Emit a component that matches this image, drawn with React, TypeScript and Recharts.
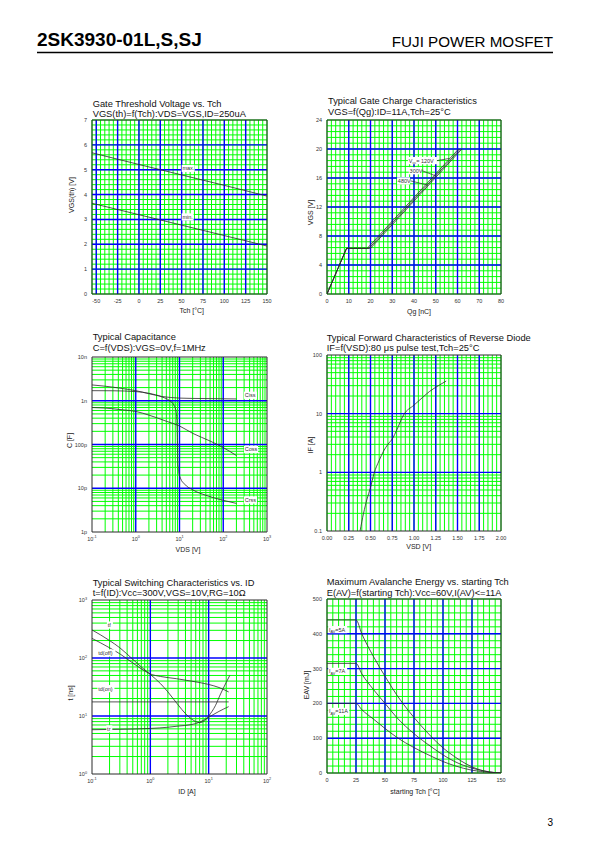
import React from 'react';
import { LineChart, Line, XAxis, YAxis, ReferenceLine, ReferenceDot } from 'recharts';

const FONT = 'Arial, "Liberation Sans", Helvetica, sans-serif';
const INK = '#2b2b2b';
const GREEN = '#00ff00';
const BLUE = '#0000ff';

type Pt = { x: number; y: number };
const pts = (rows: number[][]): Pt[] => rows.map(([x, y]) => ({ x, y }));

// --- Gate threshold voltage vs Tch
const tchTicks = [-50, -25, 0, 25, 50, 75, 100, 125, 150];
const vthTicks = [0, 1, 2, 3, 4, 5, 6, 7];
const vthMax = pts([[-55, 5.68], [0, 5.21], [50, 4.79], [100, 4.37], [150, 3.94]]);
const vthMin = pts([[-55, 3.65], [0, 3.19], [50, 2.77], [100, 2.35], [150, 1.93]]);

// --- Gate charge
const qgTicks = [0, 10, 20, 30, 40, 50, 60, 70, 80];
const vgsTicks = [0, 4, 8, 12, 16, 20, 24];
const qg120 = pts([[0, 0], [9, 6.3], [18.5, 6.3], [60.5, 20]]);
const qg300 = pts([[0, 0], [9, 6.3], [19.3, 6.3], [61.3, 20]]);
const qg480 = pts([[0, 0], [9, 6.3], [20, 6.3], [62, 20]]);

// --- Capacitance (pF)
const vdsTicks = [0.1, 1, 10, 100, 1000];
const capTicks = [1, 10, 100, 1000, 10000];
const capLabels = ['1p', '10p', '100p', '1n', '10n'];
const ciss = pts([[0.1, 2300], [0.2, 2150], [0.5, 1900], [1, 1700], [2, 1450], [4, 1250], [10, 1150], [20, 1130], [50, 1120], [100, 1110], [200, 1100]]);
const coss = pts([[0.1, 700], [0.2, 680], [0.5, 620], [1, 570], [2, 470], [5, 340], [10, 265], [20, 180], [50, 120], [100, 85], [200, 56]]);
const crss = pts([[0.1, 1700], [0.3, 1690], [1, 1620], [2, 1480], [4, 1220], [6, 1000], [7.5, 790], [8.4, 560], [8.8, 250], [9.0, 80], [9.2, 35], [9.6, 24], [10.5, 17], [13, 12.5], [20, 9.2], [40, 6.9], [100, 5.3], [200, 4.5]]);

// --- Reverse diode
const vsdTicks = [0, 0.25, 0.5, 0.75, 1, 1.25, 1.5, 1.75, 2];
const ifTicks = [0.1, 1, 10, 100];
const diodeIf = pts([[0.38, 0.1], [0.42, 0.2], [0.46, 0.35], [0.5, 0.55], [0.54, 0.95], [0.6, 1.6], [0.65, 2.3], [0.7, 3.0], [0.755, 3.8], [0.8, 5.2], [0.88, 9.5], [1.0, 14], [1.1, 19], [1.18, 24], [1.28, 30], [1.37, 36]]);

// --- Switching times (ns)
const idTicks = [0.1, 1, 10, 100];
const tTicks = [1, 10, 100, 1000];
const tf = pts([[0.1, 305], [0.2, 200], [0.3, 150], [0.5, 95], [0.7, 70], [1, 52], [1.5, 36], [2, 26], [3, 15.5], [4, 11], [5, 9], [6, 8], [7, 7.7], [8.5, 8.3], [10, 10], [13, 15], [16, 24], [20, 38], [23, 50]]);
const tdOff = pts([[0.1, 218], [0.2, 150], [0.3, 118], [0.5, 82], [0.7, 65], [1, 53], [1.5, 48], [2.8, 44], [5, 40], [10, 35], [15, 31], [22, 26]]);
const tdOn = pts([[0.1, 17.5], [22, 17.5]]);
const tr = pts([[0.1, 5.8], [0.3, 5.9], [1, 6.1], [2, 6.4], [3, 6.7], [5, 7.1], [7, 7.8], [10, 9.5], [15, 12], [22, 14.5]]);

// --- Avalanche energy (mJ)
const tstTicks = [0, 25, 50, 75, 100, 125, 150];
const eavTicks = [0, 100, 200, 300, 400, 500];
const eav5 = pts([[0, 440], [25, 440], [30, 400], [40, 335], [50, 278], [60, 225], [70, 180], [80, 140], [90, 104], [100, 72], [110, 47], [120, 26], [130, 11], [140, 3], [150, 0]]);
const eav7 = pts([[0, 315], [25, 315], [30, 285], [40, 240], [50, 200], [60, 160], [75, 113], [90, 75], [100, 52], [110, 33], [125, 14], [140, 3], [150, 0]]);
const eav11 = pts([[0, 200], [25, 200], [30, 182], [40, 155], [50, 128], [60, 103], [75, 73], [90, 48], [100, 33], [110, 21], [125, 8], [140, 2], [150, 0]]);

// grid helpers
const steps = (a: number, b: number, s: number) => {
  const out: number[] = [];
  for (let i = 0; a + i * s <= b + 1e-9; i++) out.push(+(a + i * s).toFixed(6));
  return out;
};
const logMinor = (e0: number, e1: number) => {
  const out: number[] = [];
  for (let e = e0; e < e1; e++) for (let m = 2; m <= 9; m++) out.push(+(m * Math.pow(10, e)).toPrecision(6));
  return out;
};

type Tag = { x: number; y: number; w: number; label: React.ReactNode };
type Seg = { from: [number, number]; to: [number, number] };

const tickStyle = { fontSize: 5.5, fill: '#333', fontFamily: FONT };

const xTickPlain = (fmt: (v: number) => string) => (p: any) => (
  <text x={p.x} y={p.y + 4.7} textAnchor="middle" {...tickStyle}>{fmt(p.payload.value)}</text>
);
const yTickPlain = (fmt: (v: number) => string) => (p: any) => (
  <text x={p.x} y={p.y + 2} textAnchor="end" {...tickStyle}>{fmt(p.payload.value)}</text>
);
const xTickPow = (p: any) => (
  <text x={p.x} y={p.y + 4.7} textAnchor="middle" {...tickStyle}>
    10<tspan dy={-2.3} fontSize={3.8}>{Math.round(Math.log10(p.payload.value))}</tspan>
  </text>
);
const yTickPow = (p: any) => (
  <text x={p.x} y={p.y + 2} textAnchor="end" {...tickStyle}>
    10<tspan dy={-2.3} fontSize={3.8}>{Math.round(Math.log10(p.payload.value))}</tspan>
  </text>
);

const tagShape = (label: React.ReactNode, w: number) => (p: any) => (
  <g>
    <rect x={p.cx} y={p.cy - 3.6} width={w} height={7.2} fill="#fff" />
    <text x={p.cx + 0.8} y={p.cy + 2} {...tickStyle}>{label}</text>
  </g>
);

type PanelProps = {
  left: number; top: number; w: number; h: number;
  xDomain: [number, number]; yDomain: [number, number];
  xLog?: boolean; yLog?: boolean;
  xTicks: number[]; yTicks: number[];
  xTick: (p: any) => React.ReactElement; yTick: (p: any) => React.ReactElement;
  xMinor: number[]; xMajor: number[]; yMinor: number[]; yMajor: number[];
  series: { data: Pt[]; type?: 'linear' | 'monotone' }[];
  tags?: Tag[]; segs?: Seg[];
};

function Panel(p: PanelProps) {
  const W = p.w + 50;
  const H = p.h + 40;
  return (
    <div style={{ position: 'absolute', left: p.left - 40, top: p.top - 10, width: W, height: H }}>
      <LineChart width={W} height={H} margin={{ top: 10, right: 10, bottom: 0, left: 0 }}>
        <XAxis dataKey="x" type="number" domain={p.xDomain} scale={p.xLog ? 'log' : 'linear'} allowDataOverflow
          ticks={p.xTicks} interval={0} height={30} axisLine={false} tickLine={false} tickSize={0} tickMargin={4} tick={p.xTick} />
        <YAxis dataKey="y" type="number" domain={p.yDomain} scale={p.yLog ? 'log' : 'linear'} allowDataOverflow
          ticks={p.yTicks} interval={0} width={40} axisLine={false} tickLine={false} tickSize={0} tickMargin={5} tick={p.yTick} />
        {p.xMinor.map((v) => <ReferenceLine key={'xm' + v} x={v} stroke={GREEN} strokeWidth={1} />)}
        {p.yMinor.map((v) => <ReferenceLine key={'ym' + v} y={v} stroke={GREEN} strokeWidth={1} />)}
        {p.xMajor.map((v) => <ReferenceLine key={'xM' + v} x={v} stroke={BLUE} strokeWidth={1.4} />)}
        {p.yMajor.map((v) => <ReferenceLine key={'yM' + v} y={v} stroke={BLUE} strokeWidth={1.4} />)}
        <ReferenceLine x={p.xDomain[0]} stroke={INK} strokeWidth={1} />
        <ReferenceLine x={p.xDomain[1]} stroke={INK} strokeWidth={1} />
        <ReferenceLine y={p.yDomain[0]} stroke={INK} strokeWidth={1} />
        <ReferenceLine y={p.yDomain[1]} stroke={INK} strokeWidth={1} />
        {p.series.map((s, i) => (
          <Line key={'s' + i} data={s.data} dataKey="y" type={s.type ?? 'monotone'} stroke={INK} strokeWidth={0.8}
            dot={false} activeDot={false} isAnimationActive={false} />
        ))}
        {(p.segs ?? []).map((s, i) => (
          <ReferenceLine key={'g' + i} segment={[{ x: s.from[0], y: s.from[1] }, { x: s.to[0], y: s.to[1] }]} stroke={INK} strokeWidth={0.7} />
        ))}
        {(p.tags ?? []).map((t, i) => (
          <ReferenceDot key={'t' + i} x={t.x} y={t.y} r={0.1} shape={tagShape(t.label, t.w)} />
        ))}
      </LineChart>
    </div>
  );
}

const sub = (a: string, s: string, b: string) => (
  <>{a}<tspan fontSize={3.8} dy={1.3}>{s}</tspan><tspan dy={-1.3}>{b}</tspan></>
);

export default function App() {
  const titleStyle = { fontSize: 9.3, fill: '#111' };
  const axisStyle = { fontSize: 7, fill: '#222' };
  return (
    <div style={{ position: 'absolute', left: 0, top: 0, width: 595, height: 842, background: '#fff', overflow: 'hidden' }}>
      <svg width={595} height={842} style={{ position: 'absolute', left: 0, top: 0 }} fontFamily={FONT}>
        <text x={37} y={45.5} fontSize={19} fontWeight="bold" fill="#000">2SK3930-01L,S,SJ</text>
        <text x={553} y={47} fontSize={15.2} textAnchor="end" fill="#000">FUJI POWER MOSFET</text>
        <line x1={37} x2={553} y1={52.5} y2={52.5} stroke="#000" strokeWidth={1.5} />

        <text x={92.7} y={106.7} {...titleStyle}>Gate Threshold Voltage vs. Tch</text>
        <text x={92.7} y={117.3} {...titleStyle}>VGS(th)=f(Tch):VDS=VGS,ID=250uA</text>
        <text x={328} y={104.3} {...titleStyle}>Typical Gate Charge Characteristics</text>
        <text x={328} y={115} {...titleStyle}>VGS=f(Qg):ID=11A,Tch=25°C</text>
        <text x={92.7} y={340} {...titleStyle}>Typical Capacitance</text>
        <text x={92.7} y={350.7} {...titleStyle}>C=f(VDS):VGS=0V,f=1MHz</text>
        <text x={326.7} y={341} {...titleStyle}>Typical Forward Characteristics of Reverse Diode</text>
        <text x={326.7} y={351} {...titleStyle}>IF=f(VSD):80 μs pulse test,Tch=25°C</text>
        <text x={92.7} y={585.7} {...titleStyle}>Typical Switching Characteristics vs. ID</text>
        <text x={92.7} y={596} {...titleStyle}>t=f(ID):Vcc=300V,VGS=10V,RG=10Ω</text>
        <text x={326.7} y={585} {...titleStyle}>Maximum Avalanche Energy vs. starting Tch</text>
        <text x={326.7} y={596} {...titleStyle}>E(AV)=f(starting Tch):Vcc=60V,I(AV)&lt;=11A</text>

        <text x={191.7} y={312.5} textAnchor="middle" {...axisStyle}>Tch [°C]</text>
        <text x={419} y={314} textAnchor="middle" {...axisStyle}>Qg [nC]</text>
        <text x={188} y={551.8} textAnchor="middle" {...axisStyle}>VDS [V]</text>
        <text x={418.7} y={549.2} textAnchor="middle" {...axisStyle}>VSD [V]</text>
        <text x={187} y={794.2} textAnchor="middle" {...axisStyle}>ID [A]</text>
        <text x={415} y={794.2} textAnchor="middle" {...axisStyle}>starting Tch [°C]</text>

        <text x={73.5} y={195} transform="rotate(-90 73.5 195)" textAnchor="middle" {...axisStyle}>VGS(th) [V]</text>
        <text x={312.5} y={212.5} transform="rotate(-90 312.5 212.5)" textAnchor="middle" {...axisStyle}>VGS [V]</text>
        <text x={71.5} y={440.5} transform="rotate(-90 71.5 440.5)" textAnchor="middle" {...axisStyle}>C [F]</text>
        <text x={312.5} y={445} transform="rotate(-90 312.5 445)" textAnchor="middle" {...axisStyle}>IF [A]</text>
        <text x={73} y={693} transform="rotate(-90 73 693)" textAnchor="middle" {...axisStyle}>t [ns]</text>
        <text x={308.5} y={685} transform="rotate(-90 308.5 685)" textAnchor="middle" {...axisStyle}>EAV [mJ]</text>

        <text x={553} y={826} fontSize={10} textAnchor="end" fill="#000">3</text>
      </svg>

      <Panel left={92} top={120} w={175} h={174} xDomain={[-55, 150]} yDomain={[0, 7]}
        xTicks={tchTicks} yTicks={vthTicks} xTick={xTickPlain((v) => String(v))} yTick={yTickPlain((v) => String(v))}
        xMinor={steps(-55, 150, 5)} xMajor={steps(-50, 125, 25)} yMinor={steps(0, 7, 0.2)} yMajor={steps(1, 6, 1)}
        series={[{ data: vthMax, type: 'linear' }, { data: vthMin, type: 'linear' }]}
        tags={[{ x: 50, y: 5.05, w: 13, label: 'max.' }, { x: 50, y: 3.1, w: 12, label: 'min.' }]} />

      <Panel left={327} top={120} w={174} h={174} xDomain={[0, 80]} yDomain={[0, 24]}
        xTicks={qgTicks} yTicks={vgsTicks} xTick={xTickPlain((v) => String(v))} yTick={yTickPlain((v) => String(v))}
        xMinor={steps(0, 80, 2)} xMajor={steps(10, 70, 10)} yMinor={steps(0, 24, 0.8)} yMajor={steps(4, 20, 4)}
        series={[{ data: qg120, type: 'linear' }, { data: qg300, type: 'linear' }, { data: qg480, type: 'linear' }]}
        segs={[{ from: [50.6, 18.4], to: [56.3, 18.7] }, { from: [43.8, 17.0], to: [49.9, 16.3] }, { from: [38.5, 15.6], to: [46.5, 15.0] }]}
        tags={[
          { x: 37.2, y: 18.4, w: 29, label: sub('V', 'cc', '= 120V') },
          { x: 37.6, y: 17.0, w: 13, label: '300V' },
          { x: 32.2, y: 15.6, w: 13, label: '480V' },
        ]} />

      <Panel left={92} top={357} w={175} h={175} xDomain={[0.1, 1000]} yDomain={[1, 10000]} xLog yLog
        xTicks={vdsTicks} yTicks={capTicks} xTick={xTickPow} yTick={yTickPlain((v) => capLabels[capTicks.indexOf(v)])}
        xMinor={logMinor(-1, 3)} xMajor={[1, 10, 100]} yMinor={logMinor(0, 4)} yMajor={[10, 100, 1000]}
        series={[{ data: ciss }, { data: coss }, { data: crss }]}
        tags={[{ x: 298, y: 1336, w: 13, label: 'Ciss' }, { x: 298, y: 77, w: 14, label: 'Coss' }, { x: 298, y: 5.4, w: 13, label: 'Crss' }]} />

      <Panel left={327} top={355} w={174} h={176} xDomain={[0, 2]} yDomain={[0.1, 100]} yLog
        xTicks={vsdTicks} yTicks={ifTicks} xTick={xTickPlain((v) => v.toFixed(2))} yTick={yTickPlain((v) => String(v))}
        xMinor={steps(0, 2, 0.05)} xMajor={steps(0.25, 1.75, 0.25)} yMinor={logMinor(-1, 2)} yMajor={[1, 10]}
        series={[{ data: diodeIf }]} />

      <Panel left={92} top={600} w={175} h={174} xDomain={[0.1, 100]} yDomain={[1, 1000]} xLog yLog
        xTicks={idTicks} yTicks={tTicks} xTick={xTickPow} yTick={yTickPow}
        xMinor={logMinor(-1, 2)} xMajor={[1, 10]} yMinor={logMinor(0, 3)} yMajor={[10, 100]}
        series={[{ data: tf }, { data: tdOff }, { data: tdOn, type: 'linear' }, { data: tr }]}
        tags={[
          { x: 0.18, y: 370, w: 6, label: 'tf' },
          { x: 0.124, y: 122, w: 18, label: 'td(off)' },
          { x: 0.124, y: 29.6, w: 17, label: 'td(on)' },
          { x: 0.176, y: 6.0, w: 6, label: 'tr' },
        ]} />

      <Panel left={327} top={599} w={174} h={174} xDomain={[0, 150]} yDomain={[0, 500]}
        xTicks={tstTicks} yTicks={eavTicks} xTick={xTickPlain((v) => String(v))} yTick={yTickPlain((v) => String(v))}
        xMinor={steps(0, 150, 5)} xMajor={steps(25, 125, 25)} yMinor={steps(0, 500, 20)} yMajor={steps(100, 400, 100)}
        series={[{ data: eav5 }, { data: eav7 }, { data: eav11 }]}
        tags={[
          { x: 1, y: 412, w: 19, label: sub('I', 'AV', '=5A') },
          { x: 1, y: 292, w: 19, label: sub('I', 'AV', '=7A') },
          { x: 1, y: 177, w: 21, label: sub('I', 'AV', '=11A') },
        ]} />
    </div>
  );
}
